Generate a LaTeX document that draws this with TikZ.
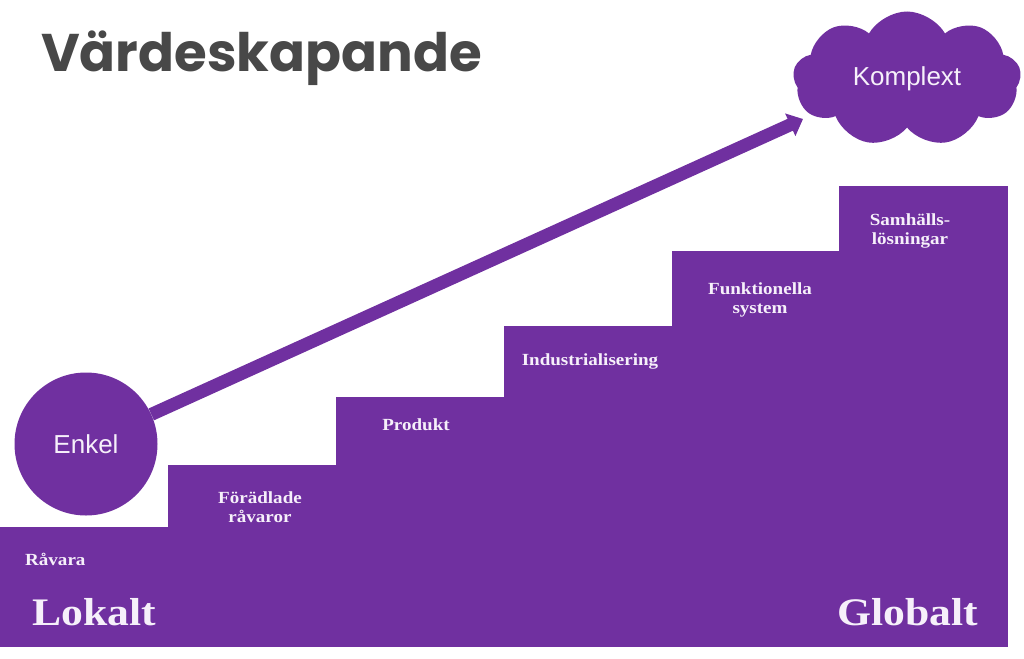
\documentclass[tikz,border=0pt]{standalone}
\usepackage{fontspec}
\setmainfont{Liberation Serif}
\newfontfamily\stepfont{Liberation Serif}[FakeStretch=1.12]
\newfontfamily\blobfont{Liberation Sans}
\newfontfamily\titlefont{Poppins}
\usetikzlibrary{positioning, shapes.symbols, arrows.meta}
\definecolor{stairpurple}{HTML}{7030A0}
\definecolor{titlegray}{HTML}{484848}
\definecolor{labelwhite}{HTML}{F6F0FA}

\begin{document}
\begin{tikzpicture}[
    x=1pt, y=-1pt,
    stair/.style={fill=stairpurple, draw=none},
    steplabel/.style={text=labelwhite, font=\stepfont\bfseries\fontsize{17}{19}\selectfont, align=center, inner sep=0pt},
    endlabel/.style={text=labelwhite, font=\stepfont\bfseries\fontsize{39}{42}\selectfont, inner sep=0pt},
    blob/.style={fill=stairpurple, text=labelwhite, font=\blobfont\fontsize{26}{28}\selectfont, inner sep=0pt}
]
\useasboundingbox (0,0) rectangle (1024,658);
% title
\node[anchor=west, text=titlegray, font=\titlefont\bfseries\fontsize{53}{56}\selectfont, inner sep=0pt] (title) at (41,58) {Värdeskapande};
% draw the steps
\foreach \xa/\xb/\ytop in {0/168/527, 168/336/465, 336/504/397, 504/672/326, 672/839/251, 839/1008/186}
  \fill[stair] (\xa,\ytop) rectangle (\xb,647);
% step texts
\node[steplabel, anchor=west] (ravara) at (25,559) {Råvara};
\node[steplabel] (foradlade) at (260,507) {Förädlade\\råvaror};
\node[steplabel] (produkt) at (416,425) {Produkt};
\node[steplabel] (industri) at (590,361) {Industrialisering};
\node[steplabel] (funktion) at (760,300) {Funktionella\\system};
\node[steplabel] (samhall) at (910,231) {Samhälls-\\lösningar};
\node[endlabel, anchor=west] (lokalt) at (32,612) {Lokalt};
\node[endlabel, anchor=east] (globalt) at (978,612) {Globalt};
% simple and complex
\node[blob, circle, minimum size=143pt] (enkel) at (86,444) {Enkel};
\node[blob, cloud, cloud puffs=9, cloud puff arc=120, aspect=1.7, minimum width=228pt, minimum height=135pt] (komplext) at (907,79) {Komplext};
\coordinate (tip) at (803,119);
\draw[stairpurple, line width=13pt, -{Triangle[width=24pt, length=14pt]}] (enkel) -- (tip);
\end{tikzpicture}
\end{document}
